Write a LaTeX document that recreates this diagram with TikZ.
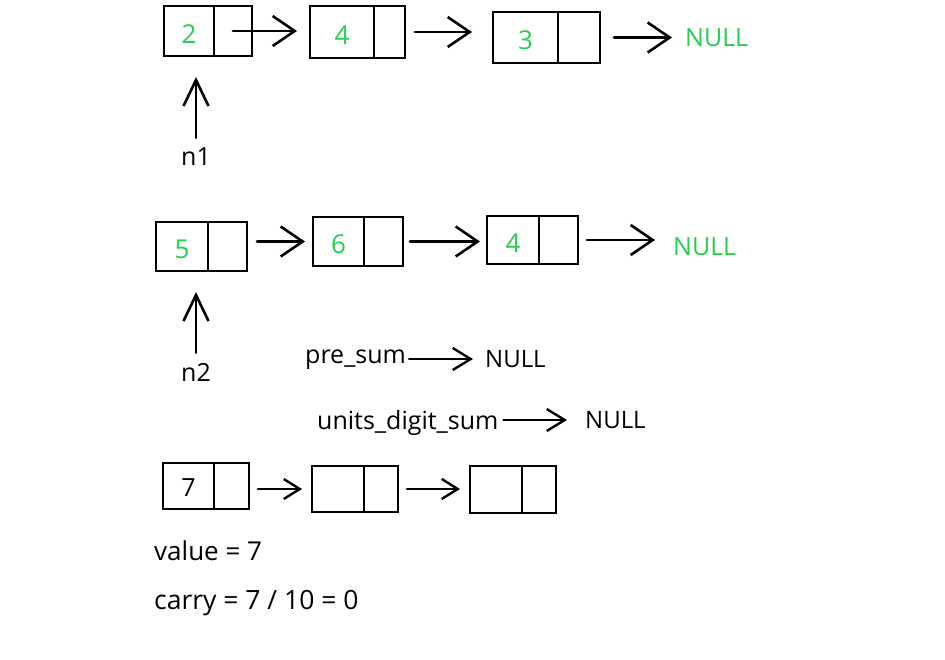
\documentclass[tikz,border=0pt]{standalone}
\usepackage{fontspec}
\setmainfont{Open Sans}
\usetikzlibrary{arrows.meta}
\definecolor{nodegreen}{RGB}{40,205,80}
\tikzset{
  cellpart/.style={draw=black, line width=2pt, inner sep=0pt, anchor=north west},
  gtext/.style={text=nodegreen, font=\fontsize{26}{30}\selectfont, text depth=0pt, yshift=-3pt},
  btext/.style={text=black, font=\fontsize{25}{30}\selectfont, inner sep=0pt},
  bigarr/.style={line width=2.8pt, line cap=round, -{Straight Barb[length=22pt,width=30pt,line width=2.6pt]}},
  uparr/.style={line width=2.8pt, line cap=round, -{Straight Barb[length=26pt,width=25pt,line width=2.6pt]}},
  midarr/.style={line width=2.8pt, line cap=round, -{Straight Barb[length=18pt,width=22pt,line width=2.4pt]}},
  smallarr/.style={line width=2.8pt, line cap=round, -{Straight Barb[length=16pt,width=20pt,line width=2.4pt]}},
}
% \cellbox{name}{x1}{y1}{xdiv}{x2}{y2}{content}{style}
\newcommand{\cellbox}[8]{%
  \node[cellpart, minimum width=#4pt-#2pt, minimum height=#6pt-#3pt] (#1d) at (#2,#3) {};
  \node[#8] at (#1d.center) {#7};
  \node[cellpart, minimum width=#5pt-#4pt, minimum height=#6pt-#3pt] (#1p) at (#4,#3) {};
}
\begin{document}
\begin{tikzpicture}[x=1pt, y=-1pt]
\useasboundingbox[fill=white] (0,0) rectangle (945,659);

% row 1
\cellbox{A1}{163}{5}{213}{251}{55}{2}{gtext}
\cellbox{A2}{309}{5}{373}{404}{57}{4}{gtext}
\cellbox{A3}{492}{11}{557}{599}{62}{3}{gtext}
\node[text=nodegreen, anchor=west, inner sep=0pt, font=\fontsize{25}{30}\selectfont] (N1) at (685,38) {NULL};
\draw[bigarr, shorten >=12pt] (A1p.center) -- (A1p.center -| A2d.west);
\draw[bigarr, shorten <=9pt, shorten >=20pt] (A2p.east) -- (A2p.east -| A3d.west);
\draw[bigarr, shorten <=13pt, shorten >=13pt] (A3p.east) -- (A3p.east -| N1.west);

\node[btext] (n1) at (196,157) {n1};
\draw[uparr, shorten <=10pt, shorten >=20pt] (n1.north) -- (n1.north |- A1d.south);

% row 2
\cellbox{B1}{155}{221}{207}{246}{270}{5}{gtext}
\cellbox{B2}{312}{216}{363}{402}{265}{6}{gtext}
\cellbox{B3}{486}{215}{538}{577}{263}{4}{gtext}
\node[text=nodegreen, anchor=west, inner sep=0pt, font=\fontsize{25}{30}\selectfont] (N2) at (673,247) {NULL};
\draw[bigarr, shorten <=9pt, shorten >=7pt] (B1p.east |- B2d.west) -- (B2d.west);
\draw[bigarr, shorten <=6pt, shorten >=6pt] (B2p.east) -- (B2p.east -| B3d.west);
\draw[bigarr, shorten <=8pt, shorten >=18pt] (B3p.east) -- (B3p.east -| N2.west);

\node[btext] (n2) at (196,372) {n2};
\draw[uparr, shorten <=10pt, shorten >=20pt] (n2.north) -- (n2.north |- B1d.south);

% pointers
\node[btext, anchor=west] (pre) at (305,360) {pre\_sum};
\node[btext, anchor=west, font=\fontsize{24}{28}\selectfont] (N3) at (485,359) {NULL};
\draw[midarr, shorten <=3pt, shorten >=12pt] (pre.east |- N3.west) -- (N3.west);

\node[btext, anchor=west] (uds) at (317,423) {units\_digit\_sum};
\node[btext, anchor=west, font=\fontsize{24}{28}\selectfont] (N4) at (585,420) {NULL};
\draw[midarr, shorten <=5pt, shorten >=18pt] (uds.east |- N4.west) -- (N4.west);

% row 3
\cellbox{C1}{162}{462}{213}{248}{508}{7}{btext, yshift=-2pt}
\cellbox{C2}{311}{465}{363}{397}{511}{}{}
\cellbox{C3}{469}{465}{521}{555}{512}{}{}
\draw[smallarr, shorten <=8pt, shorten >=9pt] (C1p.east |- C2d.west) -- (C2d.west);
\draw[smallarr, shorten <=8pt, shorten >=9pt] (C2p.east) -- (C2p.east -| C3d.west);

\node[btext, anchor=west, font=\fontsize{26}{30}\selectfont] (val) at (154,551) {value = 7};
\node[btext, anchor=west, font=\fontsize{26.5}{30}\selectfont] (carry) at (154,603) {carry = 7 / 10 = 0};
\end{tikzpicture}
\end{document}
